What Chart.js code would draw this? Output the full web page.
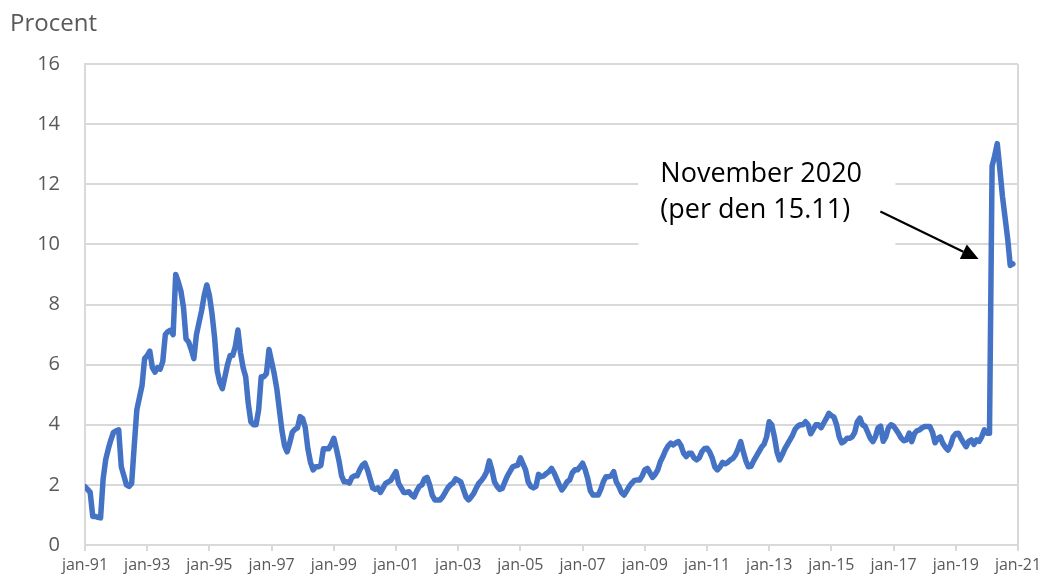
<!DOCTYPE html>
<html>
<head>
<meta charset="utf-8">
<script src="https://cdn.jsdelivr.net/npm/chart.js@4"></script>
<style>
  html, body { margin: 0; padding: 0; background: #fff; }
  canvas { display: block; }
</style>
</head>
<body>
<canvas id="c" width="1050" height="576"></canvas>
<script>
  // monthly values, jan 1991 .. nov 2020 (percent)
  var vals1991to2000 = [
    1.94, 1.85, 1.75, 0.95, 0.95, 0.92, 0.9, 2.2, 2.85, 3.2, 3.5, 3.75,
    3.8, 3.83, 2.6, 2.3, 2.0, 1.95, 2.05, 3.3, 4.5, 4.9, 5.3, 6.2,
    6.3, 6.45, 5.9, 5.75, 5.9, 5.85, 6.1, 7.0, 7.1, 7.15, 7.0, 9.0,
    8.75, 8.45, 7.9, 6.85, 6.75, 6.5, 6.2, 7.0, 7.4, 7.8, 8.3, 8.65,
    8.3, 7.7, 6.9, 5.8, 5.4, 5.2, 5.6, 6.0, 6.3, 6.3, 6.6, 7.15,
    6.4, 5.9, 5.6, 4.7, 4.1, 4.0, 4.0, 4.5, 5.6, 5.6, 5.7, 6.5,
    6.1, 5.7, 5.2, 4.5, 3.8, 3.3, 3.1, 3.4, 3.75, 3.85, 3.9, 4.27,
    4.2, 3.9, 3.2, 2.75, 2.5, 2.6, 2.6, 2.65, 3.2, 3.2, 3.2, 3.35,
    3.55, 3.2, 2.8, 2.3, 2.1, 2.1, 2.06, 2.25, 2.3, 2.3, 2.5, 2.65,
    2.72, 2.5, 2.2, 1.9, 1.85, 1.9, 1.75, 1.9, 2.05, 2.1, 2.15, 2.3
  ];
  var vals2001to2010 = [
    2.44, 2.05, 1.9, 1.75, 1.75, 1.77, 1.66, 1.6, 1.8, 1.95, 2.0, 2.2,
    2.25, 2.0, 1.65, 1.5, 1.5, 1.5, 1.6, 1.75, 1.9, 2.0, 2.06, 2.2,
    2.15, 2.1, 1.85, 1.6, 1.5, 1.6, 1.72, 1.9, 2.06, 2.15, 2.27, 2.44,
    2.8, 2.5, 2.1, 1.95, 1.85, 1.88, 2.1, 2.3, 2.45, 2.6, 2.63, 2.66,
    2.9, 2.7, 2.5, 2.1, 1.95, 1.9, 1.95, 2.35, 2.27, 2.3, 2.38, 2.44,
    2.55, 2.4, 2.2, 2.0, 1.83, 1.95, 2.1, 2.16, 2.4, 2.5, 2.5, 2.6,
    2.72, 2.5, 2.2, 1.8, 1.66, 1.66, 1.66, 1.85, 2.1, 2.27, 2.27, 2.3,
    2.44, 2.1, 1.95, 1.75, 1.66, 1.8, 1.95, 2.06, 2.15, 2.16, 2.16, 2.3,
    2.5, 2.55, 2.4, 2.25, 2.35, 2.5, 2.77, 2.94, 3.15, 3.3, 3.39, 3.33,
    3.4, 3.44, 3.3, 3.05, 2.94, 3.05, 3.05, 2.9, 2.83, 2.9, 3.1, 3.2
  ];
  var vals2011to2020 = [
    3.22, 3.1, 2.9, 2.6, 2.5, 2.6, 2.75, 2.7, 2.75, 2.83, 2.88, 3.0,
    3.2, 3.44, 3.1, 2.8, 2.6, 2.62, 2.8, 2.95, 3.1, 3.25, 3.35, 3.6,
    4.1, 4.0, 3.6, 3.1, 2.83, 3.0, 3.2, 3.35, 3.5, 3.65, 3.85, 3.95,
    4.0, 4.0, 4.1, 4.0, 3.7, 3.85, 4.0, 4.0, 3.9, 4.05, 4.2, 4.38,
    4.3, 4.25, 4.0, 3.6, 3.4, 3.45, 3.55, 3.55, 3.6, 3.75, 4.1, 4.22,
    4.0, 3.95, 3.75, 3.55, 3.44, 3.6, 3.9, 3.95, 3.45, 3.6, 3.9, 4.0,
    3.95, 3.83, 3.7, 3.55, 3.47, 3.5, 3.72, 3.44, 3.7, 3.8, 3.83, 3.9,
    3.94, 3.94, 3.94, 3.75, 3.4, 3.55, 3.6, 3.38, 3.25, 3.16, 3.33, 3.6,
    3.7, 3.72, 3.55, 3.4, 3.27, 3.45, 3.5, 3.35, 3.5, 3.45, 3.6, 3.83,
    3.72, 3.72, 12.6, 12.95, 13.35, 12.5, 11.6, 10.9, 10.2, 9.3, 9.35
  ];
  var xTickLabels = ["jan-91", "jan-93", "jan-95", "jan-97", "jan-99", "jan-01", "jan-03", "jan-05",
    "jan-07", "jan-09", "jan-11", "jan-13", "jan-15", "jan-17", "jan-19", "jan-21"];
  var yAxisLabel = "Procent";
  var noteLines = ["November 2020", "(per den 15.11)"];

  var values = vals1991to2000.concat(vals2001to2010, vals2011to2020);
  var points = values.map(function (v, i) { return { x: i, y: v }; });

  var GRID = "#d9d9d9", TXT = "#595959", FONT = '"Open Sans", sans-serif';

  /* ---------- callout + axis caption ---------- */
  var notePlugin = {
    id: "note",
    afterDraw: function (chart) {
      var ctx = chart.ctx, xs = chart.scales.x, ys = chart.scales.y;
      ctx.save();
      ctx.fillStyle = TXT;
      ctx.font = "24px " + FONT;
      ctx.textBaseline = "alphabetic";
      ctx.fillText(yAxisLabel, 10, 31);

      // white label box sits over the gridlines
      var bx0 = xs.getPixelForValue(213.5), bx1 = xs.getPixelForValue(312.7);
      var by0 = ys.getPixelForValue(13.3), by1 = ys.getPixelForValue(9.65);
      ctx.fillStyle = "#fff";
      ctx.fillRect(bx0, by0, bx1 - bx0, by1 - by0);

      ctx.fillStyle = "#000";
      ctx.font = "27px " + FONT;
      var tx = xs.getPixelForValue(222);
      ctx.fillText(noteLines[0], tx, ys.getPixelForValue(12.09));
      ctx.fillText(noteLines[1], tx, ys.getPixelForValue(10.87));

      // arrow
      var x0 = xs.getPixelForValue(306.9), y0 = ys.getPixelForValue(11.09);
      var x1 = xs.getPixelForValue(344.8), y1 = ys.getPixelForValue(9.51);
      var a = Math.atan2(y1 - y0, x1 - x0), hl = 17, hw = 8;
      var bx = x1 - hl * Math.cos(a), by = y1 - hl * Math.sin(a);
      ctx.strokeStyle = "#000";
      ctx.lineWidth = 2.2;
      ctx.beginPath(); ctx.moveTo(x0, y0); ctx.lineTo(bx, by); ctx.stroke();
      ctx.beginPath();
      ctx.moveTo(x1, y1);
      ctx.lineTo(bx + hw * Math.sin(a), by - hw * Math.cos(a));
      ctx.lineTo(bx - hw * Math.sin(a), by + hw * Math.cos(a));
      ctx.closePath(); ctx.fill();
      ctx.restore();
    }
  };

  new Chart(document.getElementById("c"), {
    type: "line",
    data: {
      datasets: [{
        data: points, borderColor: "#4472c4", borderWidth: 5.5, pointRadius: 0,
        tension: 0, fill: false, borderJoinStyle: "round", borderCapStyle: "round"
      }]
    },
    options: {
      responsive: false, animation: false, devicePixelRatio: 1,
      layout: { padding: { top: 64, right: 32, left: 0, bottom: 0 } },
      plugins: { legend: { display: false }, tooltip: { enabled: false } },
      scales: {
        x: {
          type: "linear", min: 0, max: 360,
          afterFit: function (s) { s.height = 31; s.paddingLeft = 0; s.paddingRight = 0; s.paddingTop = 0; s.paddingBottom = 0; },
          afterBuildTicks: function (s) { s.ticks = xTickLabels.map(function (_, i) { return { value: i * 24 }; }); },
          ticks: {
            autoSkip: false, maxRotation: 0, padding: 5, color: TXT,
            font: { family: FONT, size: 16 },
            callback: function (v, i) { return xTickLabels[i]; }
          },
          grid: {
            color: function (c) { return c.index === xTickLabels.length - 1 ? GRID : "rgba(0,0,0,0)"; },
            tickColor: GRID, tickLength: 6, lineWidth: 2
          },
          border: { color: GRID, width: 2 }
        },
        y: {
          min: 0, max: 16,
          afterFit: function (s) { s.width = 85; s.paddingTop = 0; s.paddingBottom = 0; s.paddingLeft = 0; s.paddingRight = 0; },
          ticks: { stepSize: 2, padding: 25, color: TXT, font: { family: FONT, size: 20 } },
          grid: { color: GRID, drawTicks: false, lineWidth: 2 },
          border: { color: GRID, width: 2 }
        }
      }
    },
    plugins: [notePlugin]
  });
</script>
</body>
</html>
